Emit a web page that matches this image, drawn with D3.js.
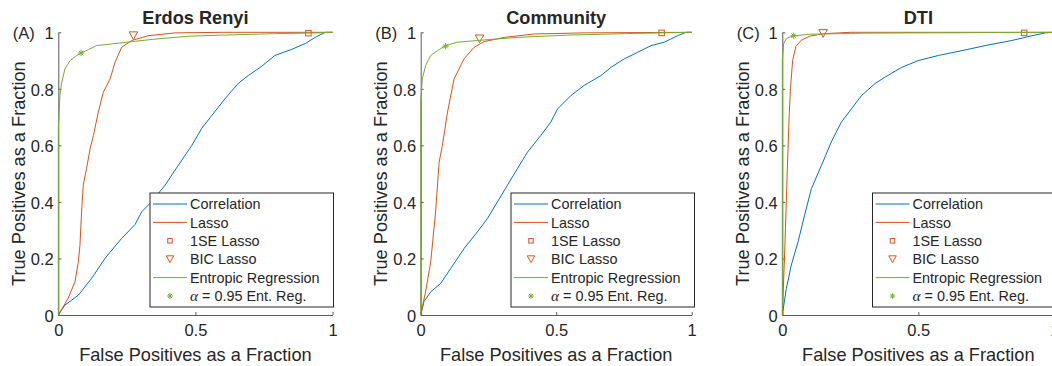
<!DOCTYPE html>
<html>
<head>
<meta charset="utf-8">
<script src="https://cdn.jsdelivr.net/npm/d3@7"></script>
<style>
  html, body { margin: 0; padding: 0; background: #fff; }
  svg { display: block; }
  text { font-family: "Liberation Sans", Arial, Helvetica, sans-serif; fill: #262626; }
</style>
</head>
<body>
<svg id="chart" width="1052" height="366"></svg>
<script>
// ---------------- DATA ----------------
const panelTitles = ["Erdos Renyi", "Community", "DTI"];
const panelTags = ["(A)", "(B)", "(C)"];
const legendLabels = ["Correlation", "Lasso", "1SE Lasso", "BIC Lasso", "Entropic Regression", "= 0.95 Ent. Reg."];
const yTicks = [0, 0.2, 0.4, 0.6, 0.8, 1];
const xTicks = [0, 0.5, 1];

// Erdos Renyi  [FP fraction, TP fraction]
const erCorrelation = [[0,0],[0.024,0.035],[0.073,0.07],[0.122,0.13],[0.17,0.2],[0.23,0.27],[0.28,0.32],[0.304,0.365],[0.34,0.40],[0.39,0.46],[0.438,0.53],[0.487,0.60],[0.523,0.66],[0.56,0.706],[0.608,0.765],[0.657,0.82],[0.693,0.847],[0.742,0.88],[0.79,0.918],[0.852,0.94],[0.90,0.96],[0.937,0.982],[0.973,1.0],[1,1]];
const erLasso = [[0,0],[0.036,0.059],[0.061,0.118],[0.073,0.188],[0.079,0.247],[0.085,0.365],[0.091,0.459],[0.103,0.518],[0.116,0.588],[0.128,0.635],[0.146,0.718],[0.164,0.788],[0.189,0.835],[0.207,0.894],[0.231,0.947],[0.268,0.971],[0.328,0.988],[0.426,0.998],[0.6,1],[1,1]];
const erEntropic = [[0,0],[0,0.66],[0.006,0.776],[0.012,0.82],[0.024,0.87],[0.043,0.9],[0.067,0.918],[0.085,0.927],[0.11,0.939],[0.14,0.953],[0.195,0.959],[0.268,0.967],[0.353,0.976],[0.474,0.986],[0.596,0.99],[0.78,0.995],[0.96,0.998],[1,1]];
const er1SE = [0.912, 0.997];
const erBIC = [0.274, 0.988];
const erAlpha = [0.083, 0.927];

// Community
const cmCorrelation = [[0,0],[0.012,0.047],[0.037,0.082],[0.074,0.112],[0.111,0.165],[0.16,0.235],[0.209,0.294],[0.246,0.341],[0.283,0.40],[0.32,0.459],[0.357,0.518],[0.394,0.576],[0.443,0.635],[0.48,0.682],[0.505,0.729],[0.554,0.776],[0.603,0.812],[0.665,0.847],[0.702,0.876],[0.751,0.906],[0.80,0.929],[0.85,0.953],[0.899,0.965],[0.948,0.988],[0.979,1.0],[1,1]];
const cmLasso = [[0,0],[0.018,0.082],[0.037,0.188],[0.055,0.365],[0.068,0.541],[0.08,0.60],[0.099,0.718],[0.123,0.835],[0.16,0.906],[0.197,0.947],[0.234,0.967],[0.308,0.982],[0.419,0.994],[0.603,0.998],[1,1]];
const cmEntropic = [[0,0],[0,0.753],[0.006,0.835],[0.018,0.882],[0.037,0.918],[0.062,0.935],[0.092,0.953],[0.135,0.965],[0.209,0.971],[0.357,0.982],[0.542,0.99],[0.788,0.996],[1,1]];
const cm1SE = [0.889, 0.998];
const cmBIC = [0.217, 0.977];
const cmAlpha = [0.092, 0.951];

// DTI
const dtCorrelation = [[0,0],[0.015,0.094],[0.033,0.176],[0.058,0.259],[0.082,0.353],[0.107,0.447],[0.144,0.529],[0.18,0.612],[0.217,0.682],[0.254,0.729],[0.291,0.776],[0.34,0.818],[0.377,0.841],[0.439,0.876],[0.50,0.90],[0.574,0.918],[0.66,0.935],[0.746,0.953],[0.844,0.971],[0.918,0.988],[0.967,0.998],[1,1]];
const dtLasso = [[0,0],[0.008,0.2],[0.018,0.5],[0.025,0.7],[0.03,0.8],[0.038,0.9],[0.05,0.95],[0.07,0.972],[0.1,0.986],[0.15,0.995],[0.25,1],[1,1]];
const dtEntropic = [[0,0],[0,0.9],[0.005,0.96],[0.015,0.978],[0.04,0.987],[0.1,0.993],[0.3,0.997],[1,1]];
const dt1SE = [0.889, 0.998];
const dtBIC = [0.15, 0.996];
const dtAlpha = [0.042, 0.988];

const colors = { corr: "#0072BD", lasso: "#D95319", ent: "#77AC30" };

// ---------------- LAYOUT ----------------
const panels = [
  { x0: 58.3, x1: 332.5, legendX: 150, corr: erCorrelation, lasso: erLasso, ent: erEntropic, se: er1SE, bic: erBIC, alpha: erAlpha },
  { x0: 420.7, x1: 691.7, legendX: 511, corr: cmCorrelation, lasso: cmLasso, ent: cmEntropic, se: cm1SE, bic: cmBIC, alpha: cmAlpha },
  { x0: 782.3, x1: 1054.3, legendX: 872.5, corr: dtCorrelation, lasso: dtLasso, ent: dtEntropic, se: dt1SE, bic: dtBIC, alpha: dtAlpha }
];
const yTop = 32.3, yBot = 315;
const tickFont = 16.5, labelFont = 18.2, legendFont = 14.4;

const svg = d3.select("#chart");
svg.append("rect").attr("width", 1052).attr("height", 366).attr("fill", "#fff");

function drawSquare(g, cx, cy, s, color) {
  g.append("rect").attr("x", cx - s/2).attr("y", cy - s/2).attr("width", s).attr("height", s)
    .attr("fill", "none").attr("stroke", color).attr("stroke-width", 1);
}
function drawTri(g, cx, cy, s, color) {
  const h = s * 0.9;
  g.append("path").attr("d", `M${cx - s/2},${cy - h/2}L${cx + s/2},${cy - h/2}L${cx},${cy + h/2}Z`)
    .attr("fill", "none").attr("stroke", color).attr("stroke-width", 1);
}
function drawStar(g, cx, cy, r, color) {
  const angles = [0, 45, 90, 135];
  angles.forEach(a => {
    const rad = a * Math.PI / 180;
    g.append("line").attr("x1", cx - r*Math.cos(rad)).attr("y1", cy - r*Math.sin(rad))
      .attr("x2", cx + r*Math.cos(rad)).attr("y2", cy + r*Math.sin(rad))
      .attr("stroke", color).attr("stroke-width", 1);
  });
}

panels.forEach((p, i) => {
  const x = d3.scaleLinear().domain([0, 1]).range([p.x0, p.x1]);
  const y = d3.scaleLinear().domain([0, 1]).range([yBot, yTop]);
  const g = svg.append("g");

  // axes
  const axisColor = "#5a5a5a";
  const xAxis = g.append("g").attr("transform", `translate(0,${yBot})`)
    .call(d3.axisBottom(x).tickValues(xTicks).tickSizeInner(-3).tickSizeOuter(0).tickFormat(d3.format("~g")));
  const yAxis = g.append("g").attr("transform", `translate(${p.x0},0)`)
    .call(d3.axisLeft(y).tickValues(yTicks).tickSizeInner(-3).tickSizeOuter(0).tickFormat(d3.format("~g")));
  [xAxis, yAxis].forEach(a => {
    a.select(".domain").attr("stroke", axisColor).attr("stroke-width", 1);
    a.selectAll(".tick line").attr("stroke", axisColor).attr("stroke-width", 1);
    a.selectAll("text").attr("font-family", "Liberation Sans, Arial, sans-serif")
      .attr("font-size", tickFont).attr("fill", "#262626");
  });
  xAxis.selectAll("text").attr("y", 9).attr("dy", "0.71em");
  yAxis.selectAll("text").attr("x", -4.5).attr("dy", "0.38em");

  // curves
  const line = d3.line().x(d => x(d[0])).y(d => y(d[1]));
  g.append("path").datum(p.corr).attr("d", line).attr("fill", "none").attr("stroke", colors.corr).attr("stroke-width", 1);
  g.append("path").datum(p.lasso).attr("d", line).attr("fill", "none").attr("stroke", colors.lasso).attr("stroke-width", 1);
  drawSquare(g, x(p.se[0]), y(p.se[1]), 5.5, colors.lasso);
  drawTri(g, x(p.bic[0]), y(p.bic[1]), 8.5, colors.lasso);
  g.append("path").datum(p.ent).attr("d", line).attr("fill", "none").attr("stroke", colors.ent).attr("stroke-width", 1);
  drawStar(g, x(p.alpha[0]), y(p.alpha[1]), 3.2, colors.ent);

  // title, tag, labels
  g.append("text").attr("x", (p.x0 + p.x1) / 2).attr("y", 24).attr("text-anchor", "middle")
    .attr("font-size", labelFont).attr("font-weight", "bold").attr("fill", "#000").text(panelTitles[i]);
  g.append("text").attr("x", p.x0 - 45.5).attr("y", y(1)).attr("dy", "0.38em")
    .attr("font-size", tickFont).attr("fill", "#000").text(panelTags[i]);
  g.append("text").attr("x", (p.x0 + p.x1) / 2).attr("y", 361).attr("text-anchor", "middle")
    .attr("font-size", labelFont).text("False Positives as a Fraction");
  g.append("text").attr("transform", `translate(${p.x0 - 33.5},${(yTop + yBot) / 2}) rotate(-90)`)
    .attr("text-anchor", "middle").attr("font-size", labelFont).text("True Positives as a Fraction");

  // legend
  const lx = p.legendX, ly = 193, lw = 183.5, lh = 114;
  const lg = g.append("g");
  lg.append("rect").attr("x", lx).attr("y", ly).attr("width", lw).attr("height", lh)
    .attr("fill", "#fff").attr("stroke", "#262626").attr("stroke-width", 1);
  const rowY = k => ly + 11 + k * 18.4;
  const sx0 = lx + 3, sx1 = lx + 37, sc = lx + 20;
  lg.append("line").attr("x1", sx0).attr("x2", sx1).attr("y1", rowY(0)).attr("y2", rowY(0)).attr("stroke", colors.corr);
  lg.append("line").attr("x1", sx0).attr("x2", sx1).attr("y1", rowY(1)).attr("y2", rowY(1)).attr("stroke", colors.lasso);
  drawSquare(lg, sc, rowY(2), 4.5, colors.lasso);
  drawTri(lg, sc, rowY(3), 7.5, colors.lasso);
  lg.append("line").attr("x1", sx0).attr("x2", sx1).attr("y1", rowY(4)).attr("y2", rowY(4)).attr("stroke", colors.ent);
  drawStar(lg, sc, rowY(5), 2.8, colors.ent);
  legendLabels.forEach((t, k) => {
    const tx = lg.append("text").attr("x", lx + 40).attr("y", rowY(k)).attr("dy", "0.36em")
      .attr("font-size", legendFont).attr("fill", "#000");
    if (k === 5) {
      tx.append("tspan").attr("font-family", "Liberation Serif, DejaVu Serif, serif").attr("font-style", "italic")
        .attr("font-size", legendFont + 1).text("α");
      tx.append("tspan").text(" " + t);
    } else {
      tx.text(t);
    }
  });
});
</script>
</body>
</html>
